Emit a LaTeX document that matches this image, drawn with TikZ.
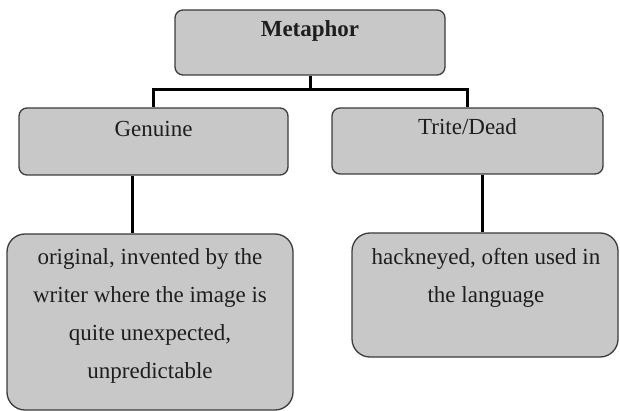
\documentclass[tikz,border=0pt]{standalone}
\usepackage{fontspec}
\setmainfont{Liberation Serif}
\definecolor{boxfill}{RGB}{200,200,200}
\definecolor{boxline}{RGB}{60,60,60}
\definecolor{textcol}{RGB}{30,30,30}
\begin{document}
\begin{tikzpicture}[x=1pt,y=-1pt,
  box/.style={draw=boxline, fill=boxfill, line width=1.3pt, rounded corners=8pt, inner sep=0pt},
  bigbox/.style={box, rounded corners=18pt},
  txt/.style={font=\fontsize{23}{37.7}\selectfont, text=textcol, inner sep=0pt, align=center},
  link/.style={draw=black, line width=3pt, line join=miter}]
\useasboundingbox (0,0) rectangle (620,411);
\fill[white] (0,0) rectangle (620,411);

\node[box, minimum width=270pt, minimum height=65pt] (meta) at (310,42.5) {};
\node[txt, font={\fontsize{23}{37.7}\selectfont\bfseries}, anchor=base] (metat) at (310,37) {Metaphor};

\node[box, minimum width=269pt, minimum height=67pt] (gen) at (153.5,141.5) {};
\node[txt, anchor=base] (gent) at (153.5,137) {Genuine};

\node[box, minimum width=271pt, minimum height=66pt] (tri) at (467.5,141) {};
\node[txt, anchor=base] (trit) at (467.5,135) {Trite/Dead};

\node[bigbox, minimum width=286pt, minimum height=176pt] (orig) at (150,322) {};
\node[txt, anchor=base] (origt) at (150,378) {original, invented by the\\writer where the image is\\quite unexpected,\\unpredictable};

\node[bigbox, minimum width=266pt, minimum height=124pt] (hack) at (485,295) {};
\node[txt, anchor=base] (hackt) at (486,302) {hackneyed, often used in\\the language};

\coordinate (j) at (310,90);
\draw[link] (meta.south) -- (meta.south |- j);
\draw[link] (gen.north) -- (gen.north |- j) -- (tri.north |- j) -- (tri.north);
\draw[link] ([xshift=-21.5pt]gen.south) -- ([xshift=-21.5pt]gen.south |- orig.north);
\draw[link] ([xshift=14.5pt]tri.south) -- ([xshift=14.5pt]tri.south |- hack.north);
\end{tikzpicture}
\end{document}
